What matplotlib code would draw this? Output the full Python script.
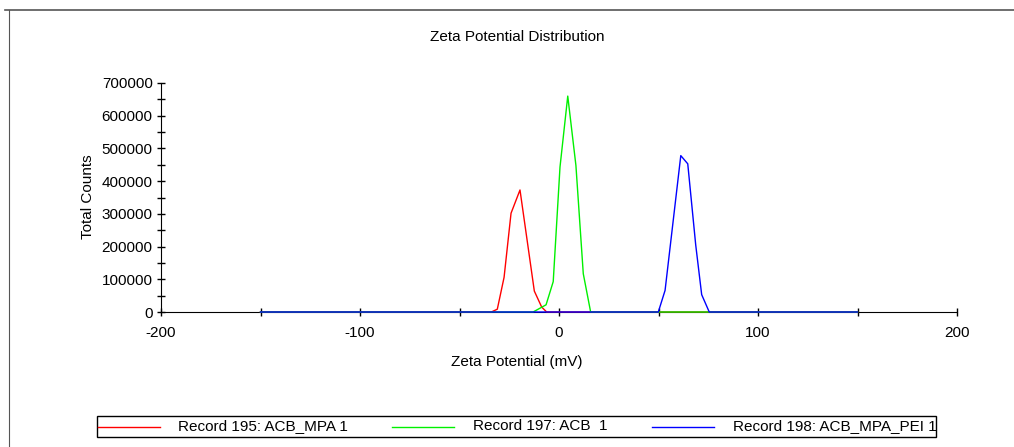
import numpy as np
import matplotlib
matplotlib.use("Agg")
import matplotlib.pyplot as plt
from matplotlib.lines import Line2D
from matplotlib.patches import Rectangle
from matplotlib.ticker import MultipleLocator, FuncFormatter

plt.rcParams['font.family'] = ['Liberation Sans', 'DejaVu Sans']
plt.rcParams['axes.unicode_minus'] = False

# zeta potential (mV) vs total counts
red_x = [-150, -34, -31, -27.6, -24.1, -19.6, -12.4, -8.7, -6.2, 150]
red_y = [0, 0, 8600, 106000, 302000, 373000, 64000, 15000, 0, 0]
green_x = [-150, -13, -6.5, -2.9, 0.5, 4.4, 8.5, 12.2, 15.9, 150]
green_y = [0, 0, 22000, 93000, 443000, 660000, 448000, 117000, 0, 0]
blue_x = [-150, 49.9, 53.3, 61.2, 64.7, 68.7, 71.7, 75.5, 150]
blue_y = [0, 0, 66000, 478000, 453000, 205000, 53000, 0, 0]
labels = ['Record 195: ACB_MPA 1', 'Record 197: ACB  1', 'Record 198: ACB_MPA_PEI 1']
colors = ['#ff0000', '#00f000', '#0000ff']

W, H = 1014, 447
fig = plt.figure(figsize=(W/100, H/100), dpi=100)
ax = fig.add_axes([161/W, 1-312/H, 796/W, 229/H])

for xs, ys, c in zip([red_x, green_x, blue_x], [red_y, green_y, blue_y], colors):
    ax.plot(xs, ys, color=c, lw=1.0, zorder=3, clip_on=False)

ax.set_xlim(-200, 200)
ax.set_ylim(0, 700000)
ax.spines['top'].set_visible(False)
ax.spines['right'].set_visible(False)
ax.xaxis.set_major_locator(MultipleLocator(100))
ax.xaxis.set_minor_locator(MultipleLocator(50))
ax.yaxis.set_major_locator(MultipleLocator(100000))
ax.yaxis.set_minor_locator(MultipleLocator(50000))
ax.yaxis.set_major_formatter(FuncFormatter(lambda v, p: '%d' % v))
ax.tick_params(which='both', direction='inout', length=6, width=1, labelsize=11)
ax.tick_params(axis='x', pad=7)
ax.tick_params(axis='y', pad=3)

fig.text(0.51, 1-37/H, 'Zeta Potential Distribution', ha='center', va='center', fontsize=11)
fig.text(0.51, 1-362/H, 'Zeta Potential (mV)', ha='center', va='center', fontsize=11)
fig.text(88/W, 1-197/H, 'Total Counts', ha='center', va='center', rotation=90, fontsize=11)

# legend box drawn by hand so the three entries line up
fig.add_artist(Rectangle((97/W, 1-437/H), 839/W, 21/H, transform=fig.transFigure,
                         facecolor='white', edgecolor='black', lw=1.0))
ly = 1-426.5/H
for x0, tx, c, lab in zip([98, 392, 652], [178, 473, 733], colors, labels):
    fig.add_artist(Line2D([x0/W, (x0+62)/W], [ly, ly], color=c, lw=1.0))
    fig.text(tx/W, 1-425/H, lab, ha='left', va='center_baseline', fontsize=11)

# outer window frame
fig.add_artist(Line2D([5/W, 1], [1-10/H, 1-10/H], color='#555555', lw=1.2))
fig.add_artist(Line2D([9/W, 9/W], [0, 1-10/H], color='#555555', lw=0.8))

fig.savefig('out.png', dpi=100)
